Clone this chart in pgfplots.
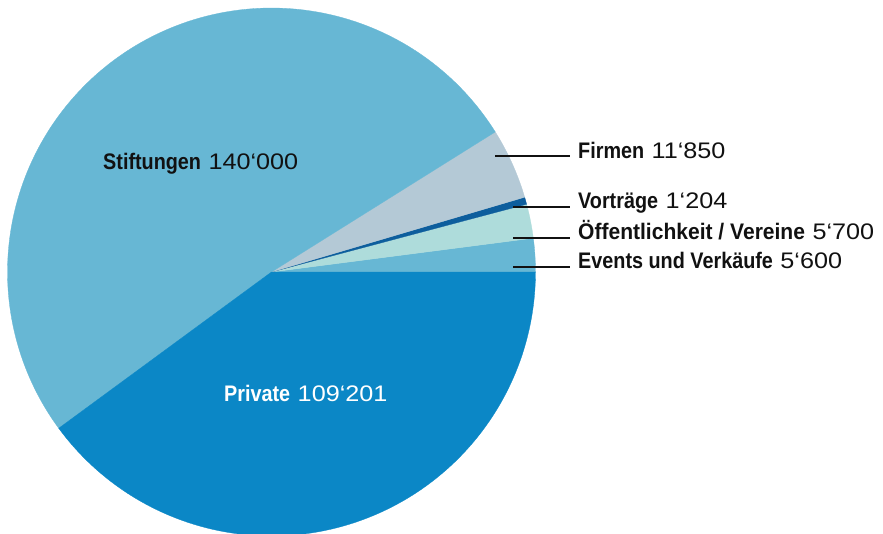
\documentclass[border=0pt]{standalone}
\usepackage{pgfplots}
\pgfplotsset{compat=1.18}
\usepackage{fontspec}
\setmainfont{Liberation Sans}
\newfontfamily\labfont{Liberation Sans}[FakeStretch=0.88]
\newfontfamily\labfontw{Liberation Sans}[FakeStretch=0.935]
\newfontfamily\numfont{Liberation Sans}[FakeStretch=1.12]
\definecolor{cStift}{HTML}{67B7D4}
\definecolor{cFirm}{HTML}{B4C9D6}
\definecolor{cVort}{HTML}{0D5E9D}
\definecolor{cOeff}{HTML}{AEDCDB}
\definecolor{cEv}{HTML}{67B7D4}
\definecolor{cPriv}{HTML}{0B87C6}
\definecolor{cTxt}{HTML}{111111}
\newcommand\gap{\hspace{7.5pt}}
% values in thousands
\def\vE{5.6}\def\vO{5.7}\def\vV{1.204}\def\vF{11.85}\def\vS{140}\def\vP{109.201}
\pgfmathsetmacro\tot{\vE+\vO+\vV+\vF+\vS+\vP}
\pgfmathsetmacro\aA{360*(\vE/\tot)}
\pgfmathsetmacro\aB{\aA+360*(\vO/\tot)}
\pgfmathsetmacro\aC{\aB+360*(\vV/\tot)}
\pgfmathsetmacro\aD{\aC+360*(\vF/\tot)}
\pgfmathsetmacro\aE{\aD+360*(\vS/\tot)}
\begin{document}
\begin{tikzpicture}
\begin{axis}[scale only axis, width=883pt, height=533pt,
  xmin=0, xmax=883, ymin=0, ymax=533, y dir=reverse, hide axis]
\addplot[fill=cEv, draw=cEv, line width=0.3pt, domain=0:\aA, samples=20, variable=\t]
  ({271.5+264*cos(\t)},{272-264*sin(\t)}) -- (axis cs:271.5,272) -- cycle;
\addplot[fill=cOeff, draw=cOeff, line width=0.3pt, domain=\aA:\aB, samples=20, variable=\t]
  ({271.5+264*cos(\t)},{272-264*sin(\t)}) -- (axis cs:271.5,272) -- cycle;
\addplot[fill=cVort, draw=cVort, line width=0.3pt, domain=\aB:\aC, samples=10, variable=\t]
  ({271.5+264*cos(\t)},{272-264*sin(\t)}) -- (axis cs:271.5,272) -- cycle;
\addplot[fill=cFirm, draw=cFirm, line width=0.3pt, domain=\aC:\aD, samples=30, variable=\t]
  ({271.5+264*cos(\t)},{272-264*sin(\t)}) -- (axis cs:271.5,272) -- cycle;
\addplot[fill=cStift, draw=cStift, line width=0.3pt, domain=\aD:\aE, samples=200, variable=\t]
  ({271.5+264*cos(\t)},{272-264*sin(\t)}) -- (axis cs:271.5,272) -- cycle;
\addplot[fill=cPriv, draw=cPriv, line width=0.3pt, domain=\aE:360, samples=160, variable=\t]
  ({271.5+264*cos(\t)},{272-264*sin(\t)}) -- (axis cs:271.5,272) -- cycle;
% leader lines
\draw[cTxt, line width=1.4pt] (axis cs:495,156) -- (axis cs:570,156);
\draw[cTxt, line width=1.4pt] (axis cs:513,207) -- (axis cs:570,207);
\draw[cTxt, line width=1.4pt] (axis cs:513,238) -- (axis cs:570,238);
\draw[cTxt, line width=1.4pt] (axis cs:513,267) -- (axis cs:570,267);
% labels
\tikzset{lab/.style={anchor=base west, inner sep=0pt, text=cTxt, font=\fontsize{22.5}{26}\selectfont}}
\node[lab] at (axis cs:578,158) {{\labfont\bfseries Firmen}\gap{\numfont 11‘850}};
\node[lab] at (axis cs:578,208) {{\labfont\bfseries Vorträge}\gap{\numfont 1‘204}};
\node[lab] at (axis cs:578,239) {{\labfontw\bfseries Öffentlichkeit / Vereine}\gap{\numfont 5‘700}};
\node[lab] at (axis cs:578,268) {{\labfont\bfseries Events und Verkäufe}\gap{\numfont 5‘600}};
\node[lab] at (axis cs:103,169) {{\labfont\bfseries Stiftungen}\gap{\numfont 140‘000}};
\node[lab, text=white] at (axis cs:224,401) {{\labfont\bfseries Private}\gap{\numfont 109‘201}};
\coordinate (BBsw) at (rel axis cs:0,0);
\coordinate (BBne) at (rel axis cs:1,1);
\end{axis}
\pgfresetboundingbox
\path (BBsw) rectangle (BBne);
\end{tikzpicture}
\end{document}
